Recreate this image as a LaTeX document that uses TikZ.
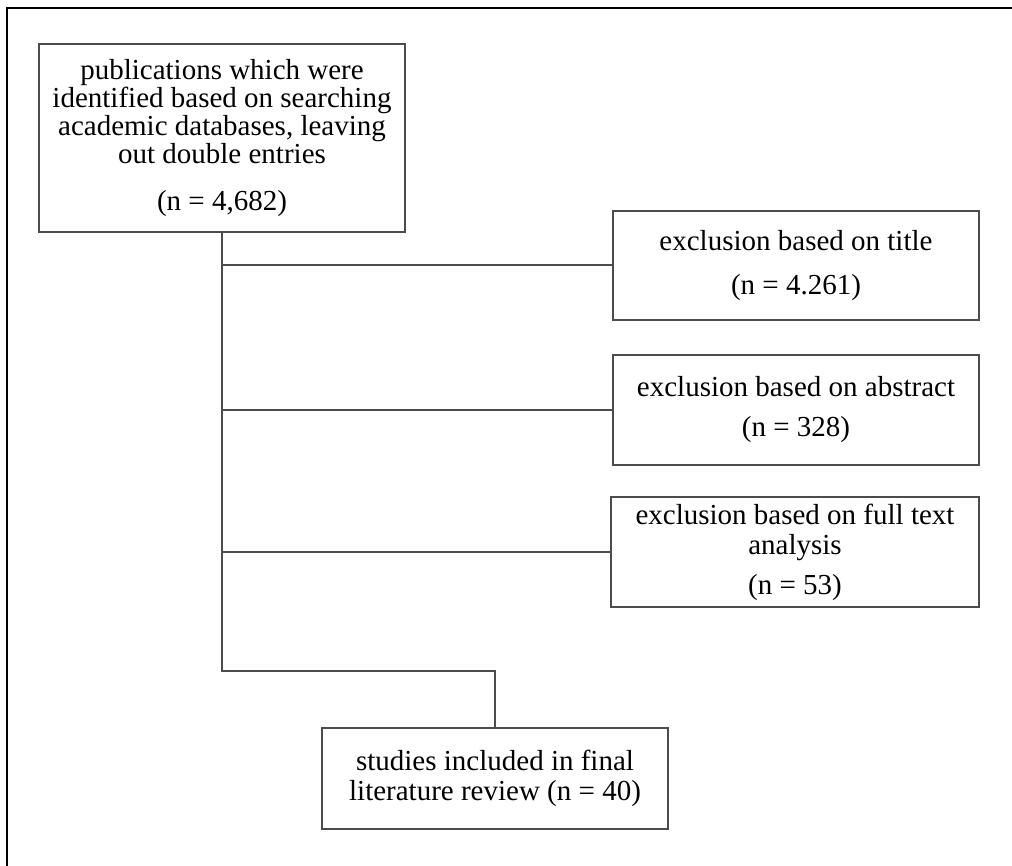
\documentclass[tikz,border=0pt]{standalone}
\usepackage{fontspec}
\setmainfont{Liberation Serif}

\begin{document}
\begin{tikzpicture}[x=1pt, y=-1pt,
    box/.style={rectangle, draw=black!70, line width=2pt, align=center, inner sep=0pt, font=\fontsize{29}{28}\selectfont},
    link/.style={draw=black!70, line width=2pt}]
    \useasboundingbox (0,0) rectangle (1012,866);
    \draw[line width=2.5pt] (7,866) -- (7,8) -- (1012,8);

    \node (pub) [box, minimum width=366pt, minimum height=188pt] at (222,138) {publications which were\\identified based on searching\\academic databases, leaving\\out double entries\\[19pt](n = 4,682)};
    \node (title) [box, minimum width=366pt, minimum height=109pt] at (796,265.5) {exclusion based on title\\[16pt](n = 4.261)};
    \node (abstract) [box, minimum width=366pt, minimum height=110pt] at (796,410) {exclusion based on abstract\\[12pt](n = 328)};
    \node (fulltext) [box, minimum width=368pt, minimum height=110pt] at (795,552) {exclusion based on full text\\[2pt]analysis\\[12pt](n = 53)};
    \node (final) [box, minimum width=346pt, minimum height=101pt] at (495,778.5) {studies included in final\\[2pt]literature review (n = 40)};

    \draw[link] (pub.south) -- ++(0,438) -| (final.north);
    \draw[link] (pub.south |- title.west) -- (title.west);
    \draw[link] (pub.south |- abstract.west) -- (abstract.west);
    \draw[link] (pub.south |- fulltext.west) -- (fulltext.west);
\end{tikzpicture}
\end{document}
